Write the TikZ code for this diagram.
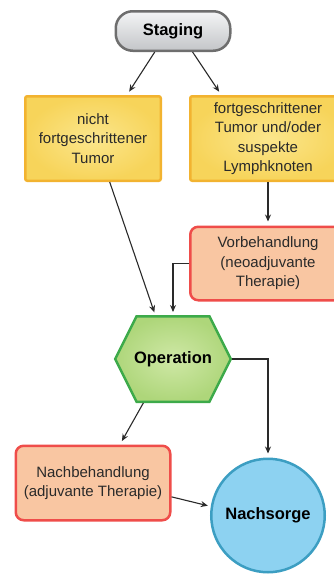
\documentclass[tikz,border=0pt]{standalone}
\usepackage{fontspec}
\setmainfont{Liberation Sans}
\usepackage{xcolor}
\usetikzlibrary{positioning,calc,shapes.symbols,arrows.meta}

\definecolor{stageline}{HTML}{6E6E6E}
\definecolor{stagetop}{HTML}{F4F5F6}
\definecolor{stagebot}{HTML}{C3C5C8}
\definecolor{tumorline}{HTML}{F2B330}
\definecolor{tumorin}{HTML}{FBE68C}
\definecolor{tumorout}{HTML}{F7D45A}
\definecolor{therline}{HTML}{EF4D4A}
\definecolor{therfill}{HTML}{F9C6A2}
\definecolor{opline}{HTML}{3DAA4A}
\definecolor{opin}{HTML}{CFE8A6}
\definecolor{opout}{HTML}{AED67A}
\definecolor{nsline}{HTML}{3C9EC2}
\definecolor{nsfill}{HTML}{8DD2F1}
\definecolor{txt}{HTML}{2A2A2A}

\begin{document}
\begin{tikzpicture}[
    font=\fontsize{15}{19.5}\selectfont,
    text=txt,
    stagebox/.style={
        draw=stageline,
        line width=2.5pt,
        rounded corners=17pt,
        minimum width=114.5pt,
        minimum height=39.5pt,
        top color=stagetop,
        bottom color=stagebot,
        text=black,
        font=\fontsize{16.5}{19}\selectfont\bfseries
    },
    tumorbox/.style={
        draw=tumorline,
        line width=2.5pt,
        rounded corners=2pt,
        minimum height=84.5pt,
        align=center,
        inner color=tumorin,
        outer color=tumorout
    },
    therapy/.style={
        draw=therline,
        line width=2.5pt,
        rounded corners=8pt,
        align=center,
        fill=therfill
    },
    hexa/.style={
        signal,
        signal to=east and west,
        signal pointer angle=127,
        draw=opline,
        line width=2.5pt,
        inner color=opin,
        outer color=opout,
        minimum height=85.5pt,
        inner xsep=-2.5pt,
        inner ysep=0pt,
        text=black,
        font=\fontsize{16.5}{19}\selectfont\bfseries
    },
    endcircle/.style={
        circle,
        draw=nsline,
        line width=2.5pt,
        fill=nsfill,
        minimum size=113.5pt,
        inner sep=0pt,
        text=black,
        font=\fontsize{16.5}{19}\selectfont\bfseries
    },
    arrow/.style={-{Stealth[length=7pt,width=6pt]}, line width=1.1pt, draw=txt, shorten >=3pt}
]

\useasboundingbox (0,0) rectangle (334pt,-574pt);

\node[stagebox] (staging) at (173pt,-31pt) {Staging};
\node[tumorbox, minimum width=135.5pt, below=43pt of staging, xshift=-80pt] (notadv) {nicht\\fortgeschrittener\\Tumor};
\node[tumorbox, minimum width=155.5pt, below=43pt of staging, xshift=95pt] (adv) {fortgeschrittener\\Tumor und/oder\\suspekte\\Lymphknoten};
\node[therapy, minimum width=155.5pt, minimum height=73.5pt, below=43.5pt of adv] (vor) {Vorbehandlung\\(neoadjuvante\\Therapie)};
\node[hexa, below=13.5pt] (op) at (staging |- vor.south) {Operation};
\node[therapy, minimum width=154.5pt, minimum height=74.5pt, below=41.5pt] (nach) at (notadv |- op.south) {Nachbehandlung\\(adjuvante Therapie)};
\node[endcircle, below=54.5pt] (ns) at (adv |- op.south) {Nachsorge};

% staging splits
\draw[arrow, shorten >=4pt] (staging.229) -- (notadv.52);
\draw[arrow, shorten >=4pt] (staging.313) -- (adv.137);
\draw[arrow, shorten >=4pt] (adv.south) -- (vor.north);

% into operation
\draw[arrow] (notadv.291) -- (op.112);
\draw[arrow] (vor.west) -| (op.north);

% after operation
\draw[arrow, shorten >=4pt] (op.east) -| (ns.north);
\draw[arrow, shorten >=4pt] (op.236) -- (nach.55);
\draw[arrow] (nach.350) -- (ns.171);

\end{tikzpicture}
\end{document}
